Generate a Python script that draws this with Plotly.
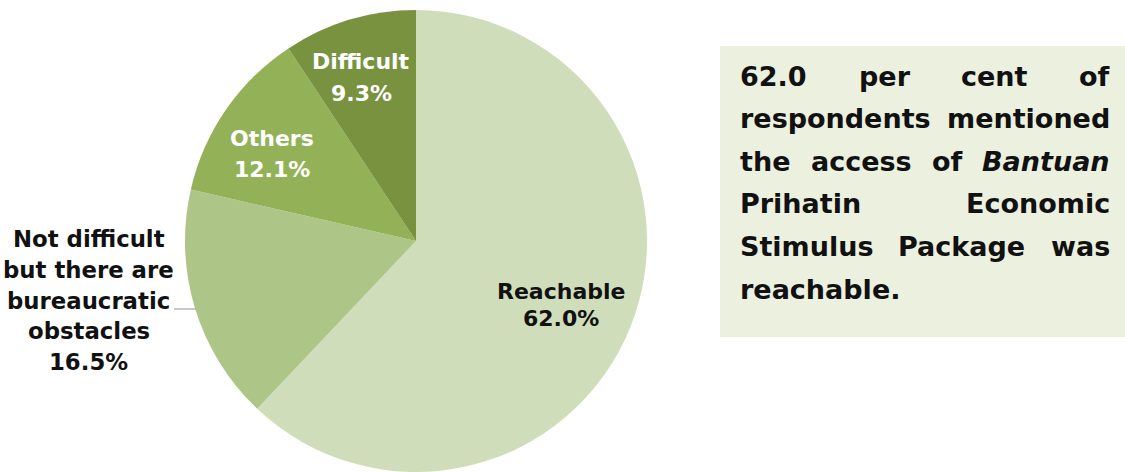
import plotly.graph_objects as go

# Survey answers on access to the stimulus package
categories = ["Reachable", "Not difficult but there are bureaucratic obstacles", "Others", "Difficult"]
shares = [62.0, 16.5, 12.1, 9.3]
colors = ["#CFDDBA", "#ADC688", "#93B257", "#78923F"]

# Label lines for each slice (category wording split over lines)
label_lines = [
    ["Reachable"],
    ["Not difficult", "but there are", "bureaucratic", "obstacles"],
    ["Others"],
    ["Difficult"],
]
label_colors = ["#111111", "#111111", "#FFFFFF", "#FFFFFF"]

# Commentary text, justified line by line
note_lines = [
    ["62.0", "per", "cent", "of"],
    ["respondents", "mentioned"],
    ["the", "access", "of", "<i>Bantuan</i>"],
    ["Prihatin", "Economic"],
    ["Stimulus", "Package", "was"],
    ["reachable."],
]

W, H = 1125, 472
FONT = "DejaVu Sans"


def px(x):
    return x / W


def py(y):
    return 1 - y / H


# Advance widths of DejaVu Sans Bold, per 1000 em
ADV = {" ": 348, ".": 381, "%": 1002, "a": 675, "b": 716, "c": 593, "d": 716,
       "e": 678, "f": 435, "g": 716, "h": 712, "i": 343, "k": 665, "l": 343,
       "m": 1042, "n": 712, "o": 687, "p": 716, "r": 493, "s": 595, "t": 478,
       "u": 712, "w": 924, "B": 765, "E": 683, "P": 733, "S": 720, "R": 774}
for d in "0123456789":
    ADV[d] = 696


def text_width(word, size):
    plain = word.replace("<i>", "").replace("</i>", "")
    return sum(ADV.get(ch, 650) for ch in plain) * size / 1000


cx, cy, r = 416, 241, 231

fig = go.Figure(
    go.Pie(
        labels=categories,
        values=shares,
        sort=False,
        direction="clockwise",
        rotation=0,
        marker=dict(colors=colors, line=dict(width=0)),
        textinfo="none",
        hoverinfo="label+percent",
        domain=dict(x=[px(cx - r), px(cx + r)], y=[py(cy + r), py(cy - r)]),
        showlegend=False,
    )
)

# Slice label placement: centre x, first line y, line pitch, font size
label_layout = [
    (561, 291, 27.5, 22),
    (89, 239, 30.75, 22.8),
    (272, 138, 31, 22),
    (361, 62, 31, 22),
]

annotations = []
for lines, val, col, (lx, ly0, pitch, size) in zip(label_lines, shares, label_colors, label_layout):
    all_lines = lines + [f"{val:.1f}%"]
    for k, line in enumerate(all_lines):
        annotations.append(dict(
            x=px(lx), y=py(ly0 + k * pitch), xref="paper", yref="paper",
            text=f"<b>{line}</b>", showarrow=False, align="center",
            xanchor="center", yanchor="middle", borderpad=0,
            font=dict(family=FONT, size=size, color=col),
        ))

# Commentary box
box_left, box_right, box_top, box_bottom = 720, 1125, 46, 337
shapes = [
    dict(type="rect", xref="paper", yref="paper",
         x0=px(box_left), x1=px(box_right), y0=py(box_bottom), y1=py(box_top),
         fillcolor="#EBF0DF", line=dict(width=0), layer="below"),
    dict(type="line", xref="paper", yref="paper",
         x0=px(174), x1=px(196), y0=py(309), y1=py(309),
         line=dict(color="#A6A6A6", width=1.2)),
]

note_size = 27
text_left, text_right = 740, 1110
first_line_y, line_pitch = 76, 42.6
for i, words in enumerate(note_lines):
    y = first_line_y + i * line_pitch
    widths = [text_width(w, note_size) for w in words]
    if len(words) == 1 or i == len(note_lines) - 1:
        gap = text_width(" ", note_size)
    else:
        gap = (text_right - text_left - sum(widths)) / (len(words) - 1)
    xs = [text_left]
    for w in widths[:-1]:
        xs.append(xs[-1] + w + gap)
    for j, (word, x) in enumerate(zip(words, xs)):
        is_last = len(words) > 1 and j == len(words) - 1 and i != len(note_lines) - 1
        annotations.append(dict(
            x=px(text_right if is_last else x), y=py(y), xref="paper", yref="paper",
            text=f"<b>{word}</b>", showarrow=False,
            xanchor="right" if is_last else "left", yanchor="middle",
            borderpad=0, borderwidth=0,
            font=dict(family=FONT, size=note_size, color="#111111"),
        ))

fig.update_layout(
    width=W, height=H,
    margin=dict(l=0, r=0, t=0, b=0),
    paper_bgcolor="white", plot_bgcolor="white",
    annotations=annotations, shapes=shapes,
)

fig.write_html("out.html")
